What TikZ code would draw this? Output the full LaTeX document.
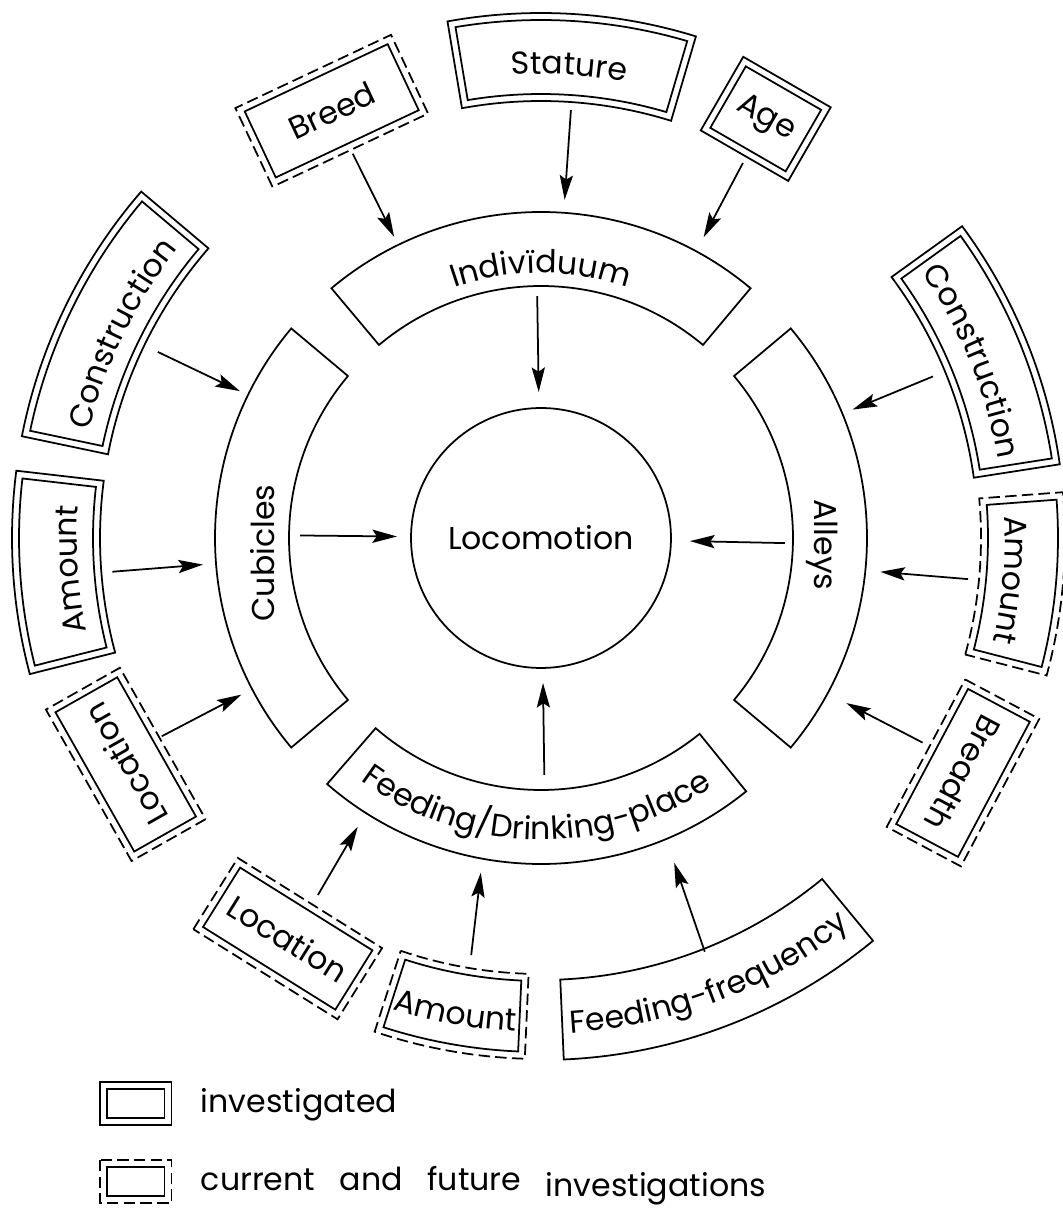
\documentclass[tikz,border=0pt]{standalone}
\usepackage{fontspec}
\setmainfont{Poppins}
\usetikzlibrary{arrows.meta,decorations.text}
\tikzset{
  ln/.style={line width=1pt},
  dsh/.style={line width=1pt, dash pattern=on 6.5pt off 3pt},
  conn/.style={line width=1pt, -{Stealth[length=14pt,width=7.5pt,inset=2.5pt]}},
  lbl/.style={inner sep=0pt},
  arctext/.style={decorate, decoration={text along path, text={#1}, text align=center}},
}
% annular sector: [style]{a1}{a2}{r inner}{r outer}
\newcommand\drawsec[5][]{\draw[#1] (#2:#4) arc[start angle=#2,end angle=#3,radius=#4] -- (#3:#5) arc[start angle=#3,end angle=#2,radius=#5] -- cycle;}
% double bordered sector: {outer style}{a1}{a2}{ri}{ro}{gap}
\newcommand\dblsec[6]{%
  \drawsec[ln]{#2}{#3}{#4}{#5}
  \pgfmathsetmacro\rIa{#4-#6}\pgfmathsetmacro\rOa{#5+#6}
  \pgfmathsetmacro\aIs{#2-asin(#6/\rIa)}\pgfmathsetmacro\aIe{#3+asin(#6/\rIa)}
  \pgfmathsetmacro\aOs{#2-asin(#6/\rOa)}\pgfmathsetmacro\aOe{#3+asin(#6/\rOa)}
  \draw[#1] (\aIs:\rIa) arc[start angle=\aIs,end angle=\aIe,radius=\rIa] -- (\aOe:\rOa) arc[start angle=\aOe,end angle=\aOs,radius=\rOa] -- cycle;}
\begin{document}
\begin{tikzpicture}[x=0.02cm,y=0.02cm]
\fontsize{18}{21}\selectfont
\useasboundingbox (-541,-675) rectangle (521,538);

% ---------- centre
\node[draw, ln, circle, minimum size=5.2cm, inner sep=0pt] (loco) at (0,0) {Locomotion};

% ---------- inner ring
\drawsec[ln]{50}{130}{252}{326}
\drawsec[ln]{140}{220}{252}{326}
\drawsec[ln]{229}{309}{252}{326}
\drawsec[ln]{-40}{40}{252}{326}
\path[arctext={Indivïduum}] (130:265) arc[start angle=130,end angle=50,radius=265];
\path[arctext={Feeding/Drinking-place}] (229:302) arc[start angle=229,end angle=309,radius=302];
\node[lbl, rotate=90] (cub) at (-278,-15) {Cubicles};
\node[lbl, rotate=-90] (all) at (281,-7) {Alleys};

% ---------- outer ring, curved boxes
\dblsec{ln}{73.6}{99.5}{444}{518}{7}
\path[arctext={Stature}] (99.5:464) arc[start angle=99.5,end angle=73.6,radius=464];
\dblsec{ln}{139.85}{168.15}{448}{522}{7}
\path[arctext={Construction}] (168.15:464) arc[start angle=168.15,end angle=139.85,radius=464];
\dblsec{ln}{173.45}{194.15}{448}{522}{7}
\path[arctext={Amount}] (194.15:464) arc[start angle=194.15,end angle=173.45,radius=464];
\dblsec{ln}{8.85}{35.75}{444}{517}{7}
\path[arctext={Construction}] (35.75:464) arc[start angle=35.75,end angle=8.85,radius=464];
\dblsec{dsh}{-14.45}{4.25}{447}{517}{7}
\path[arctext={Amount}] (4.25:464) arc[start angle=4.25,end angle=-14.45,radius=464];
\dblsec{dsh}{252.15}{267.45}{443}{514}{7}
\path[arctext={Amount}] (252.15:494) arc[start angle=252.15,end angle=267.45,radius=494];
\drawsec[ln]{272.5}{309.5}{442}{522}
\path[arctext={Feeding-frequency}] (272.5:496) arc[start angle=272.5,end angle=309.5,radius=496];

% ---------- outer ring, straight boxes
\begin{scope}[shift={(116.1:475.7)}, rotate=25.2]
  \draw[ln] (-79,-36.5) rectangle (79,36.5);
  \draw[dsh] (-86,-43.5) rectangle (86,43.5);
  \node[lbl, rotate=25.2] (breed) at (0,0) {Breed};
\end{scope}
\begin{scope}[shift={(61.8:475.6)}, rotate=-30]
  \draw[ln] (-43.5,-35.5) rectangle (43.5,35.5);
  \draw[ln] (-50.5,-42.5) rectangle (50.5,42.5);
  \node[lbl, rotate=-30] (age) at (0,0) {Age};
\end{scope}
\begin{scope}[shift={(208.6:473)}, rotate=119.5]
  \draw[ln] (-80,-35.5) rectangle (80,35.5);
  \draw[dsh] (-87,-42.5) rectangle (87,42.5);
  \node[lbl, rotate=119.5] (locl) at (0,0) {Location};
\end{scope}
\begin{scope}[shift={(-29.1:483)}, rotate=-118]
  \draw[ln] (-76.5,-35) rectangle (76.5,35);
  \draw[dsh] (-83.5,-42) rectangle (83.5,42);
  \node[lbl, rotate=-118] (breadth) at (0,0) {Breadth};
\end{scope}
\begin{scope}[shift={(237.7:474)}, rotate=-32]
  \draw[ln] (-78,-35) rectangle (78,35);
  \draw[dsh] (-85,-42) rectangle (85,42);
  \node[lbl, rotate=-32] (locb) at (0,0) {Location};
\end{scope}

% ---------- connector end points
\coordinate (breed-o) at (116.1:428); \coordinate (ind-a) at (116:335);
\coordinate (stat-o) at (86:429);     \coordinate (ind-b) at (86:339);
\coordinate (age-o) at (61.7:426);    \coordinate (ind-c) at (61.6:342);
\coordinate (ind-o) at (90.9:242);    \coordinate (loco-t) at (90.9:146);
\coordinate (conl-o) at (154.1:426);  \coordinate (cub-a) at (154:335);
\coordinate (amtl-o) at (184.5:430);  \coordinate (cub-b) at (184.5:339);
\coordinate (locl-o) at (207.6:428);  \coordinate (cub-c) at (207.6:338);
\coordinate (cub-o) at (179.4:241);   \coordinate (loco-l) at (179.4:144);
\coordinate (conr-o) at (22.4:424);   \coordinate (all-a) at (22.4:337);
\coordinate (amtr-o) at (-5.5:429);   \coordinate (all-b) at (-5.7:341);
\coordinate (brd-o) at (-28.2:433);   \coordinate (all-c) at (-28.4:347);
\coordinate (all-o) at (-1.2:244);    \coordinate (loco-r) at (-1.2:149);
\coordinate (locb-o) at (238:421);    \coordinate (feed-a) at (237.6:342);
\coordinate (amtb-o) at (260.5:423);  \coordinate (feed-b) at (259.8:340);
\coordinate (ffr-o) at (291.6:445);   \coordinate (feed-c) at (292.3:351);
\coordinate (feed-o) at (270.8:237);  \coordinate (loco-b) at (270.8:145);

\draw[conn] (breed-o) -- (ind-a);
\draw[conn] (stat-o) -- (ind-b);
\draw[conn] (age-o) -- (ind-c);
\draw[conn] (ind-o) -- (loco-t);
\draw[conn] (conl-o) -- (cub-a);
\draw[conn] (amtl-o) -- (cub-b);
\draw[conn] (locl-o) -- (cub-c);
\draw[conn] (cub-o) -- (loco-l);
\draw[conn] (conr-o) -- (all-a);
\draw[conn] (amtr-o) -- (all-b);
\draw[conn] (brd-o) -- (all-c);
\draw[conn] (all-o) -- (loco-r);
\draw[conn] (locb-o) -- (feed-a);
\draw[conn] (amtb-o) -- (feed-b);
\draw[conn] (ffr-o) -- (feed-c);
\draw[conn] (feed-o) -- (loco-b);

% ---------- legend
\draw[ln] (-441,-543.7) rectangle (-369.5,-587);
\draw[ln] (-434,-550.7) rectangle (-376.5,-580);
\node[lbl, anchor=base west] (leg1) at (-340.5,-574) {investigated};
\draw[dsh] (-441,-622) rectangle (-369.5,-665);
\draw[ln] (-434,-629) rectangle (-376.5,-658);
\node[lbl, anchor=base west] (leg2) at (-340.5,-652) {current\hspace{14pt}and\hspace{14pt}future\hspace{14pt}\raisebox{-3.5pt}{investigations}};
\end{tikzpicture}
\end{document}
